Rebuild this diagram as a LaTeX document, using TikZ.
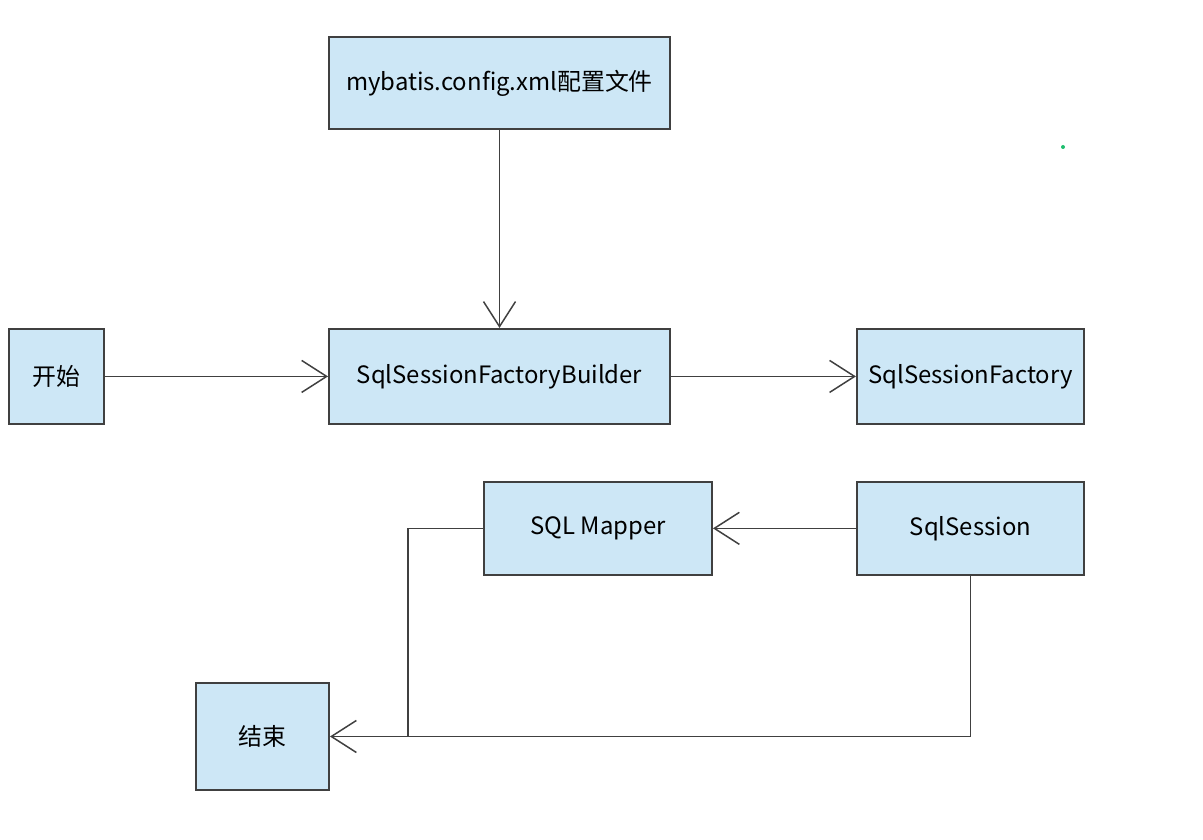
\documentclass[tikz,border=0pt]{standalone}
\usepackage{fontspec}
\setmainfont{Noto Sans CJK SC}
\usepackage{xcolor}
\usepackage{tikz}
\usetikzlibrary{arrows.meta, positioning}

\definecolor{caixa}{RGB}{205,231,246}
\definecolor{borda}{RGB}{64,64,64}
\definecolor{ponto}{RGB}{30,190,110}

\begin{document}
\begin{tikzpicture}[
        etapa/.style={draw=borda, line width=1.1pt, fill=caixa, minimum height=1.9cm, font=\fontsize{13.6}{16}\selectfont, inner sep=2pt},
        fluxo/.style={draw=borda, line width=0.85pt, -{Straight Barb[length=0.5cm,width=0.64cm]}}
    ]
    \useasboundingbox (0,0) rectangle (24.06,16.8);

    \node[etapa, minimum width=6.82cm, minimum height=1.84cm] (cfg) at (9.99,15.14) {mybatis.config.xml配置文件};
    \node[etapa, minimum width=6.82cm, below=3.96cm of cfg] (bld) {SqlSessionFactoryBuilder};
    \node[etapa, minimum width=1.9cm, left=4.46cm of bld] (ini) {开始};
    \node[etapa, minimum width=4.54cm, right=3.7cm of bld] (fac) {SqlSessionFactory};
    \node[etapa, minimum width=4.54cm, minimum height=1.86cm, below=1.12cm of fac] (ses) {SqlSession};
    \node[etapa, minimum width=4.56cm, minimum height=1.86cm, left=2.86cm of ses] (map) {SQL Mapper};
    \node[etapa, minimum width=2.66cm, minimum height=2.14cm] (fim) at (5.25,2.07) {结束};

    \coordinate (jn) at (8.16,0 |- fim.east);

    \draw[fluxo] (cfg.south) -- (bld.north);
    \draw[fluxo] (ini.east) -- (bld.west);
    \draw[fluxo] (bld.east) -- (fac.west);
    \draw[fluxo] (ses.west) -- (map.east);
    \draw[draw=borda, line width=0.85pt] (map.west) -| (jn);
    \draw[fluxo] (ses.south) |- (fim.east);

    \fill[ponto] (21.26,13.86) circle (0.04);
\end{tikzpicture}
\end{document}
